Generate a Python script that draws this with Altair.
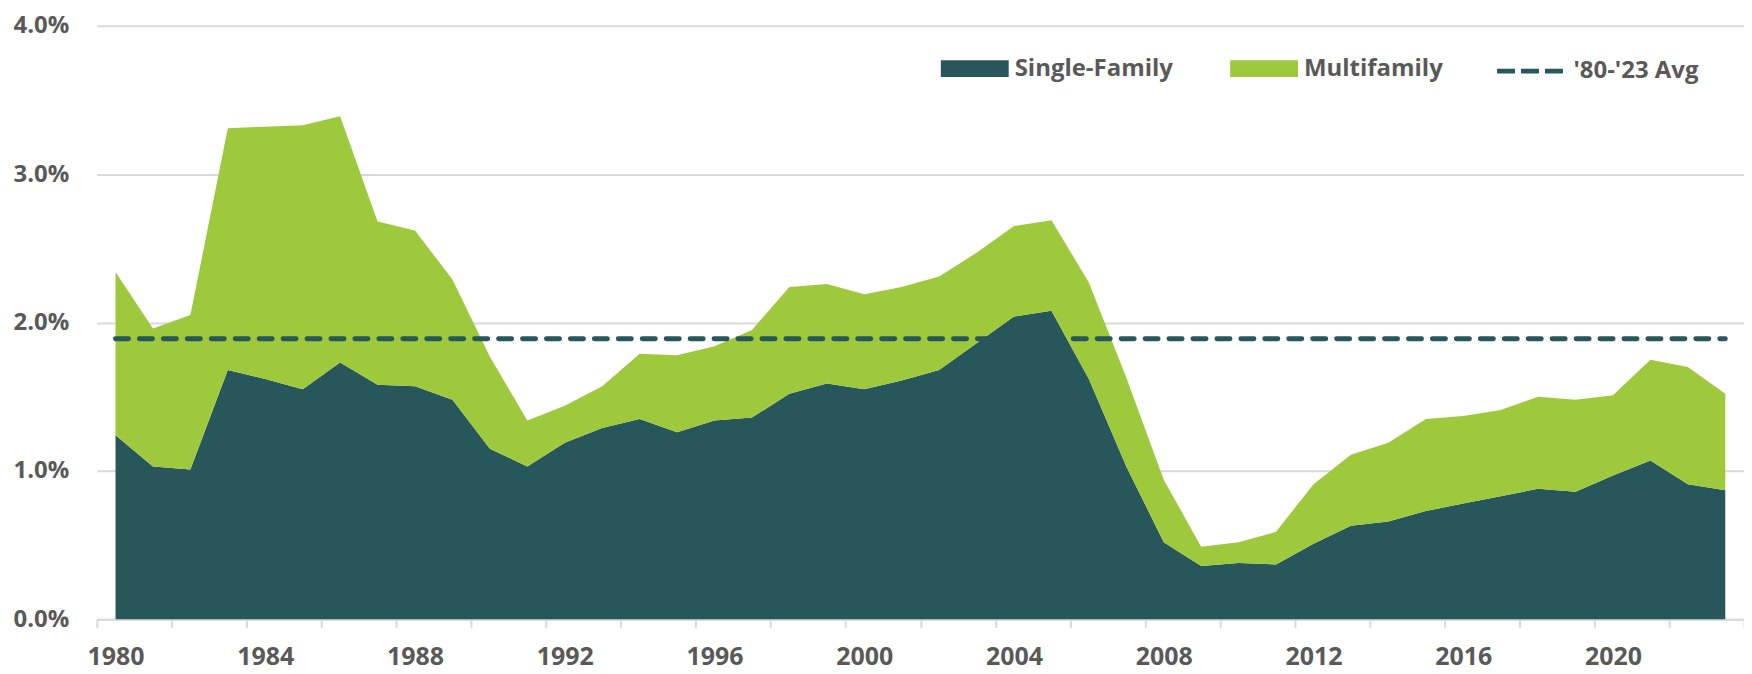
import altair as alt
import pandas as pd

# ---- data ----
YEARS = list(range(1980, 2024))
SINGLE_FAMILY = [1.24, 1.03, 1.01, 1.68, 1.62, 1.55, 1.73, 1.58, 1.57, 1.48, 1.15, 1.03, 1.19,
                 1.29, 1.35, 1.26, 1.34, 1.36, 1.52, 1.59, 1.55, 1.61, 1.68, 1.86, 2.04, 2.08, 1.62, 1.03,
                 0.52, 0.36, 0.38, 0.37, 0.51, 0.63, 0.66, 0.73, 0.78, 0.83, 0.88, 0.86, 0.97, 1.07, 0.91, 0.87]
MULTIFAMILY = [1.10, 0.93, 1.04, 1.63, 1.70, 1.78, 1.66, 1.10, 1.05, 0.81, 0.62, 0.31, 0.25,
               0.28, 0.44, 0.52, 0.50, 0.59, 0.72, 0.67, 0.64, 0.63, 0.63, 0.61, 0.61, 0.61, 0.65, 0.60,
               0.42, 0.13, 0.14, 0.22, 0.40, 0.48, 0.53, 0.62, 0.59, 0.58, 0.62, 0.62, 0.54, 0.68, 0.79, 0.65]
AVG_VALUE = 1.89
SERIES = ["Single-Family", "Multifamily"]
AVG_LABEL = "'80-'23 Avg"
LABEL_YEARS = [1980, 1984, 1988, 1992, 1996, 2000, 2004, 2008, 2012, 2016, 2020]
TICK_BOUNDS = [1979.5 + 2 * k for k in range(23)]
Y_TICKS = [0, 1, 2, 3, 4]

DARK = "#27575B"
GREEN = "#9FC93C"
GRID = "#D9D9D9"
TEXT = "#595959"
FONT = "Open Sans"

W, H = 1651, 595

rows = []
for i, y in enumerate(YEARS):
    rows.append({"year": y, "series": SERIES[0], "value": SINGLE_FAMILY[i], "order": 0})
    rows.append({"year": y, "series": SERIES[1], "value": MULTIFAMILY[i], "order": 1})
area_df = pd.DataFrame(rows)

avg_df = pd.DataFrame({"year": [YEARS[0], YEARS[-1]],
                       "value": [AVG_VALUE, AVG_VALUE],
                       "series": [AVG_LABEL, AVG_LABEL]})

half_band = W / len(YEARS) / 2

x_axis = alt.Axis(
    values=TICK_BOUNDS,
    labelExpr=f"indexof({LABEL_YEARS}, datum.value + 0.5) >= 0 ? toString(datum.value + 0.5) : ''",
    labelOffset=half_band,
    labelOverlap=False,
    labelFlush=False,
    labelBound=False,
    grid=False,
    domainColor=GRID,
    domainWidth=2,
    tickColor=GRID,
    tickWidth=2,
    tickSize=8,
    labelPadding=17,
    labelFont=FONT,
    labelFontSize=25,
    labelFontWeight="bold",
    labelColor=TEXT,
)
x_scale = alt.Scale(domain=[YEARS[0] - 0.5, YEARS[-1] + 0.5], nice=False, zero=False)

y_axis = alt.Axis(
    values=Y_TICKS,
    labelExpr="format(datum.value, '.1f') + '%'",
    domain=False,
    ticks=False,
    grid=True,
    gridColor=GRID,
    gridWidth=2,
    labelPadding=28,
    labelFont=FONT,
    labelFontSize=24,
    labelFontWeight="bold",
    labelColor=TEXT,
)
y_scale = alt.Scale(domain=[0, 4], nice=False)

areas = alt.Chart(area_df).mark_area(interpolate="linear", opacity=1).encode(
    x=alt.X("year:Q", title=None, scale=x_scale, axis=x_axis),
    y=alt.Y("value:Q", title=None, stack="zero", scale=y_scale, axis=y_axis),
    order=alt.Order("order:Q", sort="ascending"),
    color=alt.Color(
        "series:N",
        scale=alt.Scale(domain=SERIES, range=[DARK, GREEN]),
        legend=alt.Legend(
            orient="none", legendX=846, legendY=9, direction="horizontal", title=None,
            symbolType="M-1,-0.25H1V0.25H-1Z", symbolSize=4624, symbolStrokeWidth=0,
            symbolOpacity=1, labelFont=FONT, labelFontSize=24, labelFontWeight="bold",
            labelColor=TEXT, labelOffset=6, columnPadding=57, padding=0,
        ),
    ),
)

avg_line = alt.Chart(avg_df).mark_line(strokeWidth=5, strokeDash=[13, 11], strokeCap="round").encode(
    x=alt.X("year:Q", title=None, scale=x_scale, axis=x_axis),
    y=alt.Y("value:Q", title=None, stack=None, scale=y_scale, axis=y_axis),
    color=alt.Color(
        "series:N",
        scale=alt.Scale(domain=[AVG_LABEL], range=[DARK]),
        legend=alt.Legend(
            orient="none", legendX=1401, legendY=9, direction="horizontal", title=None,
            symbolType="stroke", symbolSize=4624, symbolStrokeWidth=5, symbolDash=[18, 6],
            symbolStrokeColor=DARK, labelFont=FONT, labelFontSize=24, labelFontWeight="bold",
            labelColor=TEXT, labelOffset=6, padding=0,
        ),
    ),
)

chart = (
    alt.layer(areas, avg_line)
    .resolve_scale(color="independent")
    .properties(
        width=W,
        height=H,
        background="white",
        autosize=alt.AutoSizeParams(type="none"),
        padding={"left": 89, "top": 17, "right": 0, "bottom": 53},
    )
    .configure_view(strokeWidth=0, stroke="transparent")
)

chart.save("out.html", embed_options={"renderer": "svg", "actions": False})
